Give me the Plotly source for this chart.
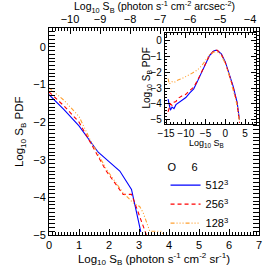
import plotly.graph_objects as go

# ---- main panel data (Log10 S_B in photon s^-1 cm^-2 sr^-1 vs Log10 PDF) ----
x512 = [0.0, 0.5, 1.0, 1.36, 1.64, 2.0, 2.36, 2.75, 3.06]
y512 = [-1.27, -1.67, -2.1, -2.49, -2.8, -3.05, -3.3, -3.79, -4.92]

x256 = [0.0, 0.5, 1.0, 1.36, 1.58, 1.91, 2.47, 2.75, 2.86, 3.02, 3.27]
y256 = [-1.2, -1.57, -2.0, -2.53, -2.85, -3.3, -3.92, -3.92, -4.15, -4.5, -5.05]

x128 = [0.0, 0.5, 1.0, 1.36, 1.91, 2.47, 2.81, 3.02, 3.14, 3.36, 3.75, 3.85]
y128 = [-1.09, -1.42, -1.85, -2.45, -3.25, -3.88, -4.15, -4.24, -4.41, -4.9, -4.9, -5.05]

# ---- inset data (full range) ----
ix = [-14.5, -14.2, -13.9, -13.5, -13.0, -12.5, -12.0, -11.0, -10.0, -9.0, -8.0, -7.0,
      -6.0, -5.0, -4.0, -3.0, -2.5, -2.0, -1.5, -1.0, 0.0, 1.0, 2.0, 3.0, 3.6]
iy512 = [-3.7, -4.1, -4.4, -4.2, -4.3, -4.05, -3.95, -3.8, -3.6, -3.3, -3.05, -2.55,
         -2.0, -1.4, -0.95, -0.68, -0.62, -0.63, -0.72, -0.85, -1.35, -2.1, -2.9, -3.9, -5.0]
iy256 = [-4.5, -4.3, -4.0, -4.1, -3.9, -3.85, -3.65, -3.5, -3.4, -3.15, -2.95, -2.5,
         -1.95, -1.4, -0.95, -0.67, -0.6, -0.62, -0.72, -0.87, -1.4, -2.15, -2.95, -4.0, -5.2]
iy128 = [-2.4, -2.75, -2.7, -2.6, -2.65, -2.55, -2.5, -2.4, -2.3, -2.15, -2.0, -1.85,
         -1.6, -1.25, -0.9, -0.75, -0.7, -0.72, -0.8, -0.95, -1.45, -2.2, -3.1, -4.1, -5.1]

labels = ["512<sup>3</sup>", "256<sup>3</sup>", "128<sup>3</sup>"]
colors = ["#0000ff", "#ff0000", "#ffa030"]
dashes = ["solid", "4px,3px", "4px,2px,1px,2px,1px,2px,1px,2px"]

xtitle_bottom = "Log<sub>10</sub> S<sub>B</sub> (photon s<sup>-1</sup> cm<sup>-2</sup> sr<sup>-1</sup>)"
xtitle_top = "Log<sub>10</sub> S<sub>B</sub> (photon s<sup>-1</sup> cm<sup>-2</sup> arcsec<sup>-2</sup>)"
ytitle = "Log<sub>10</sub> S<sub>B</sub> PDF"
inset_xtitle = "Log<sub>10</sub> S<sub>B</sub>"

FONT = "Liberation Sans"
fig = go.Figure()

mains = [(x512, y512), (x256, y256), (x128, y128)]
insets = [iy512, iy256, iy128]
for i in range(3):
    fig.add_trace(go.Scatter(x=mains[i][0], y=mains[i][1], mode="lines", name=labels[i],
                             line=dict(color=colors[i], dash=dashes[i], width=1.1),
                             xaxis="x", yaxis="y"))
for i in range(3):
    fig.add_trace(go.Scatter(x=ix, y=insets[i], mode="lines", showlegend=False,
                             line=dict(color=colors[i], dash=dashes[i], width=1.1),
                             xaxis="x3", yaxis="y3"))
# empty trace to activate top axis
fig.add_trace(go.Scatter(x=[], y=[], xaxis="x2", yaxis="y", showlegend=False))

tickcommon = dict(ticks="inside", showline=True, linecolor="black", linewidth=1,
                  showgrid=False, zeroline=False, tickcolor="black", automargin=False,
                  tickfont=dict(family=FONT, size=11, color="black"))
insetfont = dict(family=FONT, size=10, color="black")

fig.update_layout(
    width=274, height=274,
    margin=dict(l=49, r=15, t=28, b=39),
    paper_bgcolor="white", plot_bgcolor="white",
    font=dict(family=FONT, size=11, color="black"),
    xaxis=dict(range=[0, 7], dtick=1, ticklen=6, mirror=False,
               minor=dict(dtick=0.1, ticklen=3, ticks="inside", tickcolor="black"),
               title=dict(text=xtitle_bottom, font=dict(size=11.5), standoff=2),
               **tickcommon),
    xaxis2=dict(range=[-10.7, -3.7], dtick=1, ticklen=6, overlaying="x", side="top", anchor="y",
                minor=dict(dtick=0.1, ticklen=3, ticks="inside", tickcolor="black"),
                **tickcommon),
    yaxis=dict(range=[-5, 0.5], dtick=1, ticklen=6, mirror="allticks",
               minor=dict(dtick=0.1, ticklen=3, ticks="inside", tickcolor="black"),
               **tickcommon),
    xaxis3=dict(domain=[0.552, 0.986], anchor="y3", range=[-15.3, 7.8], dtick=5, ticklen=5,
                mirror="allticks",
                minor=dict(dtick=1, ticklen=2, ticks="inside", tickcolor="black"),
                **{**tickcommon, "tickfont": insetfont}),
    yaxis3=dict(domain=[0.534, 0.978], anchor="x3", range=[-5.3, 0.5], dtick=1, ticklen=5,
                mirror="allticks",
                minor=dict(dtick=0.2, ticklen=2, ticks="inside", tickcolor="black"),
                **{**tickcommon, "tickfont": insetfont}),
    legend=dict(x=0.555, y=0.38, xanchor="left", yanchor="top", bgcolor="rgba(0,0,0,0)",
                font=dict(family=FONT, size=11), tracegroupgap=0,
                title=dict(text="O\u00a0\u00a0\u00a0\u00a0\u00a06", font=dict(family=FONT, size=11))),
    annotations=[
        dict(text=xtitle_top, xref="paper", yref="paper", x=0.5, y=1.10,
             xanchor="center", yanchor="middle", showarrow=False, font=dict(size=10.5)),
        dict(text=ytitle, xref="paper", yref="paper", x=-0.14, y=0.5, textangle=-90,
             xanchor="center", yanchor="middle", showarrow=False, font=dict(size=11.5)),
        dict(text=inset_xtitle, xref="paper", yref="paper", x=0.752, y=0.44,
             xanchor="center", yanchor="middle", showarrow=False, font=dict(size=9)),
        dict(text=ytitle, xref="paper", yref="paper", x=0.462, y=0.756, textangle=-90,
             xanchor="center", yanchor="middle", showarrow=False, font=dict(size=10)),
    ],
)

fig.write_html("out.html", post_script="document.body.style.margin='0px';",
               config={"displayModeBar": False})
